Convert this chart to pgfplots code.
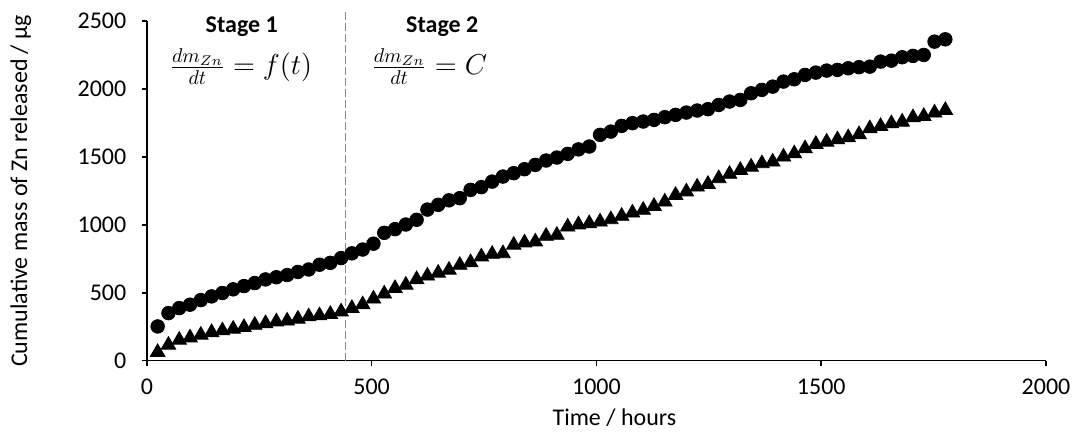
\documentclass[border=0pt]{standalone}
\usepackage{fontspec}
\setmainfont{Carlito}
\usepackage{pgfplots}
\pgfplotsset{compat=1.18}

% Zn release, circles = upper series, triangles = lower series
\pgfplotstableread{
t    upper  lower
24   252    62
48   350    115
72   387    152
96   412    169
120  446    189
144  473    208
168  498    221
192  525    233
216  549    245
240  571    262
264  598    274
288  614    287
312  630    293
336  653    307
360  671    324
384  706    332
408  720    342
432  755    360
456  790    385
480  818    413
504  861    455
528  941    492
552  968    532
576  1002   557
600  1037   598
624  1112   624
648  1147   645
672  1180   667
696  1196   703
720  1257   723
744  1277   765
768  1318   784
792  1355   789
816  1380   851
840  1409   868
864  1441   875
888  1473   917
912  1495   924
936  1522   985
960  1555   1001
984  1576   1010
1008 1662   1022
1032 1686   1039
1056 1728   1064
1080 1748   1088
1104 1760   1108
1128 1772   1137
1152 1792   1169
1176 1809   1218
1200 1826   1243
1224 1841   1279
1248 1851   1299
1272 1882   1341
1296 1907   1373
1320 1919   1402
1344 1968   1426
1368 1993   1451
1392 2017   1463
1416 2054   1500
1440 2071   1524
1464 2103   1561
1488 2120   1593
1512 2135   1610
1536 2140   1627
1560 2152   1642
1584 2160   1665
1608 2164   1708
1632 2201   1725
1656 2208   1745
1680 2233   1757
1704 2243   1789
1728 2250   1799
1752 2348   1824
1776 2365   1843
}\zndata

\begin{document}
\begin{tikzpicture}
\begin{axis}[
  scale only axis,
  width=450pt, height=170pt,
  xmin=0, xmax=2000, ymin=0, ymax=2500,
  xtick={0,500,...,2000}, ytick={0,500,...,2500},
  axis lines*=left,
  axis line style={black, line width=0.8pt},
  tick style={black, line width=0.8pt},
  tick align=outside, tick pos=left,
  major tick length=2.5pt,
  clip=false,
  font=\fontsize{12}{14}\selectfont,
  /pgf/number format/assume math mode=true,
  /pgf/number format/set thousands separator={},
  yticklabel shift=4.3pt,
  xticklabel shift=3.2pt,
  xlabel={Time / hours},
  ylabel={Cumulative mass of Zn released / µg},
  every axis x label/.style={at={(axis description cs:0.52,0)}, yshift=-28.5pt, anchor=center},
  every axis y label/.style={at={(axis description cs:0,0.5)}, xshift=-63pt, rotate=90, anchor=center},
]
\draw[gray!90, line width=0.6pt, dash pattern=on 4pt off 1.5pt]
  (axis cs:442,0) -- (axis cs:442,2566);
\addplot[only marks, mark=*, mark size=3.4pt, black, fill=black] table[x=t, y=upper] {\zndata};
\addplot[only marks, mark=triangle*, mark size=4.2pt, black, fill=black] table[x=t, y=lower] {\zndata};
\node[font=\bfseries\fontsize{12}{14}\selectfont] at (axis cs:211,2456) {Stage 1};
\node[font=\bfseries\fontsize{12}{14}\selectfont] at (axis cs:657,2456) {Stage 2};
\node[font=\fontsize{14.5}{17}\selectfont] at (axis cs:209,2165) {$\frac{dm_{Zn}}{dt}=f(t)$};
\node[font=\fontsize{14.5}{17}\selectfont] at (axis cs:628,2165) {$\frac{dm_{Zn}}{dt}=C$};
\end{axis}
\path (current axis.south west) ++(-73.5pt,-36.5pt) rectangle ++(538.5pt,217pt);
\end{tikzpicture}
\end{document}
